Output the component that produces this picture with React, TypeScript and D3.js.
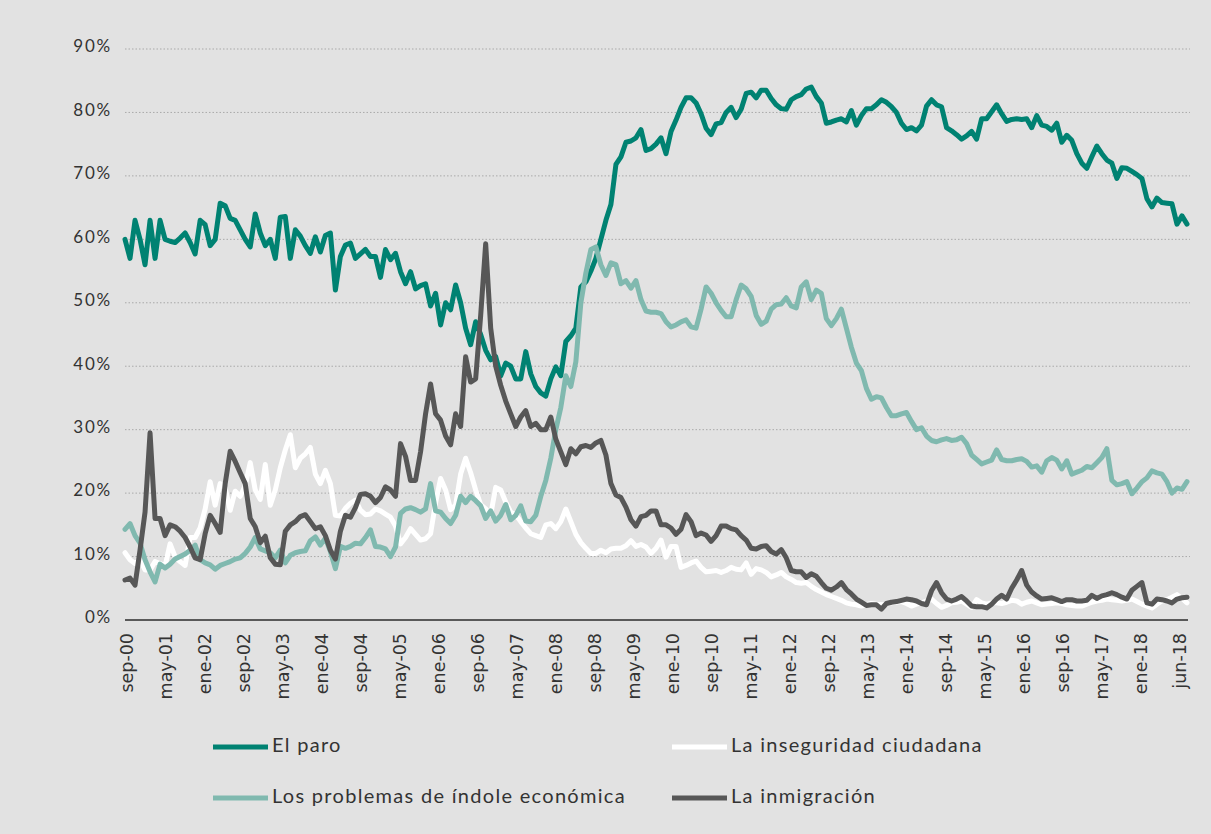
import React from "react";
import * as d3 from "d3";

const tickLabels = ["sep-00","may-01","ene-02","sep-02","may-03","ene-04","sep-04","may-05","ene-06","sep-06","may-07","ene-08","sep-08","may-09","ene-10","sep-10","may-11","ene-12","sep-12","may-13","ene-14","sep-14","may-15","ene-16","sep-16","may-17","ene-18","jun-18"];
const yTicks = [0, 10, 20, 30, 40, 50, 60, 70, 80, 90];

const paro = [60,57,63,60,56,63,57,63,60,59.7,59.5,60.2,61,59.5,57.7,63,62.3,59,60,65.7,65.3,63.3,63,61.5,60,58.8,64,61,59,60,57,63.5,63.6,57,61.5,60.5,
59,57.8,60.4,58,60.6,61,52,57.3,59.1,59.4,57,57.7,58.4,57.3,57.3,54,58.4,56.8,57.8,54.9,53,54.9,52.2,52.7,53,49.5,51.5,46.5,50,48.9,52.8,50,46,43.4,47,45,
42.5,41,41.5,38.5,40.5,40,38,38,42.3,38.8,36.8,35.8,35.3,38,39.9,38.5,43.9,44.8,46,52.5,53.3,55,57,60,63,65.5,71.8,73,75.3,75.5,76,77.3,74,74.3,75,76,
73.5,77,78.8,80.8,82.3,82.3,81.5,79.8,77.5,76.5,78.2,78.4,80,80.8,79.2,80.5,83,83.2,82.3,83.5,83.5,82.2,81.2,80.6,80.5,82,82.5,82.8,83.7,84,82.5,81.5,78.3,78.5,78.8,79,
78.5,80.3,78,79.5,80.6,80.6,81.2,82,81.6,80.9,80,78.3,77.3,77.6,77.1,78,81,82,81.2,80.9,77.6,77.1,76.5,75.8,76.3,77,75.8,79,79,80.1,81.2,79.8,78.6,78.9,79,78.9,
79,77.6,79.5,78,77.8,77.2,78.3,75.3,76.4,75.6,73.5,72,71.2,73,74.7,73.5,72.5,72,69.6,71.3,71.2,70.7,70.2,69.6,66.4,65.1,66.5,65.8,65.7,65.6,62.4,63.7,62.4];

const inseguridad = [10.6,9.5,8.9,9.5,7.9,7.9,9.2,8.9,8.5,12,10,9.2,8.6,13,13,14.5,17.5,21.8,18.1,21.5,20.8,17.3,20.3,19.5,21.2,24.8,20.5,19,24.5,18.1,20.5,24,26.8,29.2,24,25.5,
26.2,27.2,23,21.5,23.6,21.5,16.5,16.4,17.6,18.4,18.9,17.3,16.6,16.7,17.5,17.2,16.7,16.2,14.8,12,13,14.4,13.5,12.6,12.8,13.6,18.5,22.3,20.5,17.4,18.1,23,25.5,23.2,20.5,18.2,
17.5,16.6,20.9,20.5,18.6,17,16.6,15.5,14.5,13.6,13.3,13,15,15.2,14.4,15.5,17.5,15.5,13.5,12.2,11.3,10.5,10.5,11,10.6,11.2,11.3,11.3,11.7,12.5,11.6,11.9,11.5,10.5,11.3,12.6,
9.9,11.6,11.6,8.3,8.6,9,9.3,8.3,7.6,7.7,7.8,7.5,7.8,8.3,8,7.9,9,7.2,8.1,7.9,7.5,6.8,7.1,7.5,6.8,6.4,5.9,5.8,5.9,5.3,4.8,4.4,4,3.7,3.4,3.1,
2.7,2.5,2.4,2.2,2.4,2.6,2.5,2.4,2.5,2.7,2.8,2.9,2.6,2.2,2.5,2.7,3,3.3,2.6,2,2.3,2.7,2.8,3,2.5,2,3.2,2.7,2.5,2.7,2.7,2.6,2.8,3.1,3,2.5,
2.8,3,2.7,2.4,2.5,2.6,2.7,2.6,2.4,2.3,2.2,2.2,2.5,2.8,3,3.1,3.3,3.2,3.1,3,3.1,3.3,2.9,2.5,2.2,1.9,2.5,3,3.2,3.6,4,3.4,2.7];

const economica = [14.3,15.2,13.3,12.1,9.5,7.6,6,8.8,8.2,8.8,9.6,10,10.4,11,11.8,9.5,9,8.7,8,8.6,8.9,9.2,9.6,9.8,10.5,11.5,13,11.2,10.9,10.6,9.8,11,9,10.2,10.6,10.8,
10.9,12.5,13.1,11.8,12.9,10.8,8.1,11.6,11.3,11.6,12.1,12,13,14.2,11.6,11.5,11.2,10,11.5,16.8,17.5,17.7,17.4,17,17.5,21.5,17.2,17,16,15.2,16.5,19.5,18.5,19.5,18.8,18,
16,17.2,15.6,16.5,18.2,15.8,16.5,18,15.6,15.5,16.5,19.5,22,25.5,30,33.5,38.5,36.8,40.7,50,54.7,58.4,58.8,56,54.3,56.3,56,53,53.5,52.3,53.5,50.5,48.7,48.5,48.5,48.3,
47,46.2,46.5,47,47.3,46.2,46,49,52.5,51.5,50,48.8,47.8,47.8,50.5,52.8,52.2,51,48,46.6,47.1,49,49.7,49.8,50.8,49.5,49.2,52.5,53.3,50.5,52,51.5,47.5,46.4,47.5,49,
46,43,40.5,39.3,36.5,34.8,35.2,35,33.5,32.2,32.2,32.5,32.7,31.3,30,30.3,29,28.3,28.1,28.4,28.6,28.3,28.4,28.8,27.8,26,25.3,24.6,24.9,25.2,26.8,25.3,25.1,25.1,25.3,25.4,
25,24.1,24.3,23.3,25.1,25.6,25.2,23.8,25.1,23,23.3,23.6,24.2,24,24.8,25.6,27,22,21.3,21.5,21.8,19.9,20.8,21.8,22.4,23.5,23.2,23,21.8,20,20.8,20.6,21.8];

const inmigracion = [6.3,6.6,5.5,11,17,29.5,16,16,13.3,15,14.7,14,13,11.5,9.8,9.5,13.6,16.5,15.2,13.8,21.5,26.6,25,23.2,21.5,16,14.7,12.2,13.2,9.8,8.8,8.7,14,15,15.5,16.3,
16.6,15.5,14.4,14.7,13.3,11,9.6,14,16.5,16.2,17.7,19.8,19.9,19.5,18.5,19.3,21,20.5,19.5,27.8,25.8,22,22,26.5,32.5,37.2,32.5,31.5,29,27.6,32.5,30.5,41.5,37.5,38,48,
59.3,46,40,37,34.5,32.5,30.5,32,33,30.5,31,30,30,32,28.5,26.5,24.5,27,26.2,27.3,27.5,27.2,27.9,28.3,26,21.5,19.7,19.3,17.8,15.8,14.8,16.3,16.5,17.2,17.2,15,
15,14.5,13.5,14.3,16.6,15.5,13.3,13.7,13.4,12.4,13.3,14.8,14.8,14.4,14.2,13.3,12.6,11.3,11.2,11.6,11.7,10.8,10.4,11.1,9.8,7.8,7.6,7.6,6.7,7.3,6.9,5.9,5,4.7,5.2,5.9,
4.8,4.1,3.3,2.8,2.3,2.4,2.4,1.7,2.6,2.8,2.9,3.1,3.3,3.2,3,2.6,2.4,4.6,5.9,4.3,3.3,3,3.3,3.7,3,2.2,2.1,2.1,1.9,2.5,3.3,3.9,3.3,5,6.3,7.8,
5.5,4.4,3.8,3.3,3.4,3.5,3.2,2.9,3.2,3.2,3,3,3.1,3.9,3.4,3.8,4,4.3,4,3.6,3.3,4.7,5.3,5.9,2.7,2.5,3.3,3.2,3,2.7,3.3,3.5,3.6];

const seriesNames = ["El paro", "La inseguridad ciudadana", "Los problemas de índole económica", "La inmigración"];
const seriesColors = ["#008272", "#ffffff", "#80b9af", "#575757"];
const seriesData = [paro, inseguridad, economica, inmigracion];

const W = 1211, H = 834;

export default function App() {
  const n = paro.length;
  const x = d3.scaleLinear().domain([0, n - 1]).range([125, 1187]);
  const y = d3.scaleLinear().domain([0, 90]).range([620, 49]);
  const xt = d3.scalePoint<string>().domain(tickLabels).range([127, 1180]);
  const line = d3.line<number>().x((_, i) => x(i)).y(d => y(d)).curve(d3.curveLinear);

  const legend = [
    { s: 0, lx: 213, ly: 747 },
    { s: 1, lx: 672, ly: 747 },
    { s: 2, lx: 213, ly: 798 },
    { s: 3, lx: 672, ly: 798 },
  ];

  return (
    <svg width={W} height={H} style={{ position: "absolute", left: 0, top: 0, display: "block" }}>
      <rect x={0} y={0} width={W} height={H} fill="#e2e2e2" />
      {yTicks.filter(t => t > 0).map(t => (
        <line key={"g" + t} x1={125} x2={1190} y1={y(t)} y2={y(t)} stroke="#a9a9a9" strokeWidth={1} strokeDasharray="1.5,2" />
      ))}
      {yTicks.map(t => (
        <text key={"yt" + t} x={112} y={y(t) - 1} textAnchor="end" dominantBaseline="middle"
          fontFamily="Lato, 'Noto Sans', sans-serif" fontSize={17} letterSpacing={1.8} fill="#333">{t + "%"}</text>
      ))}
      <line x1={125} x2={1188} y1={y(0)} y2={y(0)} stroke="#595959" strokeWidth={1.8} />
      {tickLabels.map(l => (
        <text key={l} transform={`translate(${xt(l)! + 6},633) rotate(-90)`} textAnchor="end"
          fontFamily="'DejaVu Sans', Verdana, sans-serif" fontSize={17.5} fill="#333">{l}</text>
      ))}
      {seriesData.map((d, k) => (
        <path key={"s" + k} d={line(d) || ""} fill="none" stroke={seriesColors[k]} strokeWidth={5}
          strokeLinejoin="round" strokeLinecap="round" />
      ))}
      {legend.map(({ s, lx, ly }) => (
        <g key={"lg" + s}>
          <line x1={lx} x2={lx + 55} y1={ly} y2={ly} stroke={seriesColors[s]} strokeWidth={5} />
          <text x={lx + 59} y={ly} dominantBaseline="middle" fontFamily="Lato, 'Noto Sans', sans-serif"
            fontSize={20} letterSpacing={1.3} fill="#333">{seriesNames[s]}</text>
        </g>
      ))}
    </svg>
  );
}
